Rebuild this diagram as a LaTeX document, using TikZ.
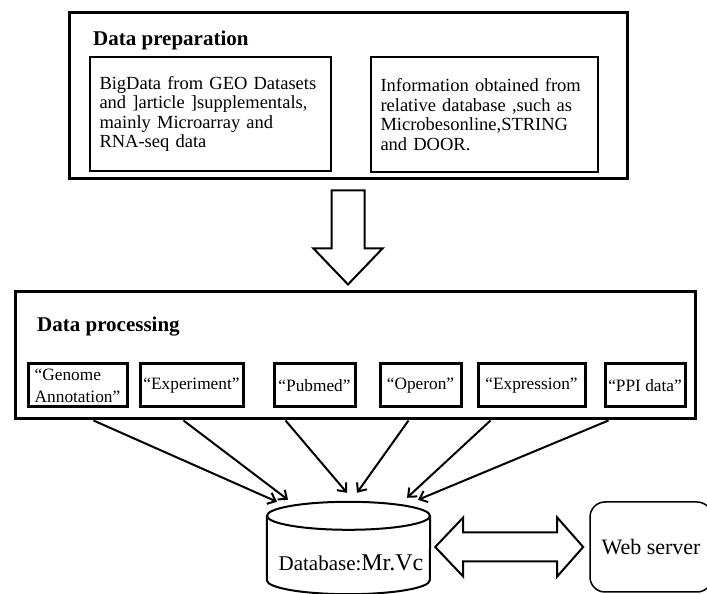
\documentclass[tikz,border=0pt]{standalone}
\usepackage{fontspec}
\setmainfont{Liberation Serif}
\usetikzlibrary{positioning,arrows.meta,calc}

\begin{document}
\begin{tikzpicture}[
  x=1pt,y=1pt,
  outerbox/.style={draw,line width=3pt,inner sep=0pt},
  srcbox/.style={draw,line width=2pt,inner sep=10pt,align=left,font=\fontsize{18.5}{19.5}\selectfont},
  databox/.style={draw,line width=3pt,inner sep=2pt,minimum height=43pt,align=left,font=\fontsize{17.3}{22}\selectfont},
  title/.style={font=\bfseries\fontsize{21}{24}\selectfont,anchor=west,inner sep=0pt},
  blockarrow/.style={draw,line width=2pt,fill=white,line join=miter},
  arrow/.style={-{Straight Barb[length=7pt,width=12pt]},line width=2pt},
  dbline/.style={line width=2pt}
]
\useasboundingbox (0,0) rectangle (707,594);
\node[outerbox,minimum width=558pt,minimum height=166pt] (prep) at (348,498) {};
\node[title] (preptitle) at (93,554) {Data preparation};
\node[srcbox,text width=221pt,minimum height=114pt] (bigdata) at (210,480) {BigData from GEO Datasets\\and ]article ]supplementals,\\mainly Microarray and\\RNA-seq data};
\node[srcbox,text width=207pt,minimum height=115pt] (reldb) at (484,479.5) {Information obtained from\\relative database ,such as\\Microbesonline,STRING\\and DOOR.};
\draw[blockarrow] ([yshift=-10pt]prep.south) -- ++(16.5,0) -- ++(0,-58) -- ++(18,0) -- ++(-34.5,-36) -- ++(-34.5,36) -- ++(18,0) -- ++(0,58) -- cycle;
\node[outerbox,minimum width=680pt,minimum height=127pt] (proc) at (355,238.5) {};
\node[title] (proctitle) at (37,267) {Data processing};
\node[databox,minimum width=99pt] (genome) at (77.5,208.5) {“Genome\\Annotation”};
\node[databox,minimum width=103pt,right=10pt of genome] (experiment) {“Experiment”};
\node[databox,minimum width=81pt,right=28pt of experiment] (pubmed) {“Pubmed”};
\node[databox,minimum width=81pt,right=22pt of pubmed] (operon) {“Operon”};
\node[databox,minimum width=107pt,right=14pt of operon] (expression) {“Expression”};
\node[databox,minimum width=80pt,right=17pt of expression] (ppi) {“PPI data”};
\node[minimum width=163pt,minimum height=92pt,inner sep=0pt] (db) at (348.5,46) {};
\draw[dbline,fill=white] ([yshift=-14pt]db.north) ellipse [x radius=81.5pt,y radius=14pt];
\draw[dbline] ([yshift=-14pt]db.north west) -- ([yshift=14pt]db.south west) arc[start angle=180,end angle=360,x radius=81.5pt,y radius=14pt] -- ([yshift=-14pt]db.north east);
\node[inner sep=0pt] (dbname) at ([xshift=2.5pt,yshift=-15pt]db.center) {{\fontsize{21}{24}\selectfont Database:}{\fontsize{24}{28}\selectfont Mr.Vc}};
\node[draw,line width=1.5pt,rounded corners=15pt,minimum width=122pt,minimum height=90pt,font=\fontsize{22}{26}\selectfont] (web) at (651,47) {Web server};
\draw[blockarrow] ([xshift=5pt,yshift=1pt]db.east) -- ++(28,29.5) -- ++(0,-15) -- ++(94,0) -- ++(0,15) -- ++(26,-29.5) -- ++(-26,-29.5) -- ++(0,15) -- ++(-94,0) -- ++(0,-15) -- cycle;
\draw[arrow] ([xshift=80pt]proc.south west) -- ([xshift=-71.5pt]db.north);
\draw[arrow] ([xshift=170pt]proc.south west) -- ([xshift=-60.5pt,yshift=2pt]db.north);
\draw[arrow] ([xshift=272pt]proc.south west) -- ([xshift=-1.5pt,yshift=9pt]db.north);
\draw[arrow] ([xshift=395pt]proc.south west) -- ([xshift=8.5pt,yshift=9pt]db.north);
\draw[arrow] ([xshift=477pt]proc.south west) -- ([xshift=58.5pt,yshift=4pt]db.north);
\draw[arrow] ([xshift=595pt]proc.south west) -- ([xshift=69.5pt,yshift=2pt]db.north);
\end{tikzpicture}
\end{document}
